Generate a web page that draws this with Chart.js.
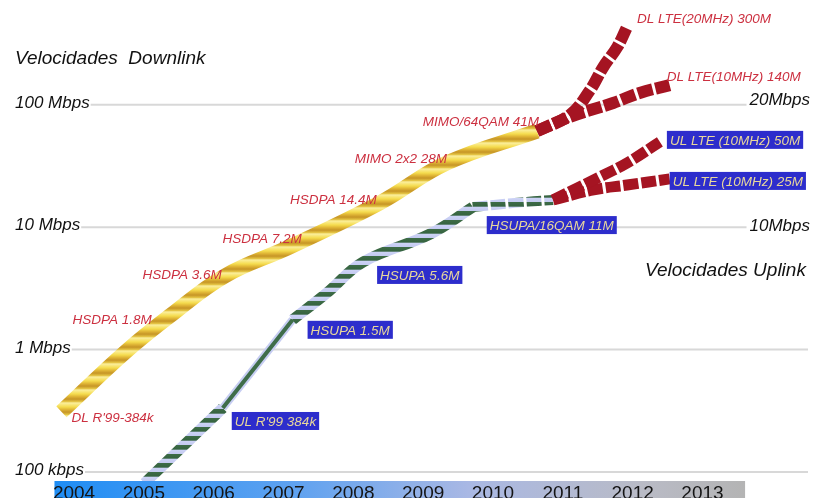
<!DOCTYPE html>
<html>
<head>
<meta charset="utf-8">
<script src="https://cdn.jsdelivr.net/npm/chart.js@4.4.0/dist/chart.umd.min.js"></script>
<style>
html, body { margin: 0; padding: 0; background: #fff; }
canvas { display: block; }
</style>
</head>
<body>
<canvas id="speedChart" width="817" height="498"></canvas>
<script>
// x axis years
var yearTicks = [2004, 2005, 2006, 2007, 2008, 2009, 2010, 2011, 2012, 2013];

// downlink, Mbps
var dlHspaYears = [2003.82, 2004.73, 2005.37, 2006.16, 2007.09, 2008.38, 2009.34, 2010.63];
var dlHspaValues = [0.31, 0.95, 1.88, 4.0, 6.9, 15.8, 33.5, 61];
var dlLte20Years = [2010.63, 2011.10, 2011.39, 2011.58, 2011.78, 2011.92];
var dlLte20Values = [61, 82.6, 132, 204, 297, 433];
var dlLte10Years = [2010.63, 2011.10, 2011.72, 2012.10, 2012.53];
var dlLte10Values = [61, 79.6, 103.5, 125, 145];

// uplink, Mbps
var ulR99Years = [2005.01, 2006.13];
var ulR99Values = [0.081, 0.333];
var ulThinYears = [2006.13, 2007.13];
var ulThinValues = [0.333, 1.75];
var ulHsupaYears = [2007.13, 2007.62, 2008.14, 2009.10, 2009.71];
var ulHsupaValues = [1.75, 2.9, 5.2, 8.8, 14.6];
var ulQamYears = [2009.71, 2010.31, 2010.86];
var ulQamValues = [14.6, 15.8, 16.7];
var ulLte50Years = [2010.86, 2011.53, 2011.92, 2012.39];
var ulLte50Values = [16.7, 25.8, 33.5, 49.8];
var ulLte25Years = [2010.86, 2011.44, 2011.92, 2012.53];
var ulLte25Values = [16.7, 20.2, 22.1, 24.8];

// axis texts
var yTickValues = [0.1, 1, 10, 100];
var yTickLabels = ['100 kbps', '1 Mbps', '10 Mbps', '100 Mbps'];
var ulTickValues = [10, 100];
var ulTickLabels = ['10Mbps', '20Mbps'];

var dlPointLabels = ["DL R'99-384k", 'HSDPA 1.8M', 'HSDPA 3.6M', 'HSDPA 7.2M', 'HSDPA 14.4M',
    'MIMO 2x2 28M', 'MIMO/64QAM 41M', 'DL LTE(20MHz) 300M', 'DL LTE(10MHz) 140M'];
var ulPointLabels = ["UL R'99 384k", 'HSUPA 1.5M', 'HSUPA 5.6M', 'HSUPA/16QAM 11M',
    'UL LTE (10MHz) 50M', 'UL LTE (10MHz) 25M'];

function toPoints(xs, ys) {
    return xs.map(function (x, i) { return { x: x, y: ys[i] }; });
}

// vertical gradient tile, repeated -> twisted rope look on sloped lines
function ropePattern(stops, h) {
    var c = document.createElement('canvas');
    c.width = 4;
    c.height = h;
    var g = c.getContext('2d');
    var grad = g.createLinearGradient(0, 0, 0, h);
    stops.forEach(function (s) { grad.addColorStop(s[0], s[1]); });
    g.fillStyle = grad;
    g.fillRect(0, 0, 4, h);
    return g.createPattern(c, 'repeat');
}

var goldRope = ropePattern([[0, '#fbef9c'], [0.3, '#f5dc4e'], [0.5, '#e0b636'],
    [0.7, '#c69526'], [0.88, '#e2c040'], [1, '#fbef9c']], 13);
var ulRope = ropePattern([[0, '#cdd3f6'], [0.42, '#c3caf0'], [0.5, '#3d6b46'],
    [0.92, '#356340'], [1, '#cdd3f6']], 9);
var lteRed = '#a51422';

// label placement: dataset index, point index, offsets
var labelPlaces = [
    [4, 0, 10, 6, 'left', 0], [4, 2, -18, 4, 'right', 1], [4, 3, -3, -1, 'right', 2],
    [4, 4, 12, -8, 'right', 3], [4, 5, -3, -3, 'right', 4], [4, 6, 0, -4, 'right', 5],
    [4, 7, 2, -9, 'right', 6], [0, 5, 10, -8, 'left', 7], [1, 4, -3, -8, 'left', 8]
];
var boxPlaces = [
    [9, 1, 9, 13, 0], [6, 0, 15, 10, 1], [6, 2, 14, 13, 2], [6, 4, 14, 18, 3],
    [2, 3, 7, -2, 4], [3, 3, 0, 2, 5]
];

var gridPlugin = {
    id: 'speedGrid',
    beforeDatasetsDraw: function (chart) {
        var ctx = chart.ctx;
        var y = chart.scales.y;
        ctx.save();
        ctx.font = "italic 17px 'Liberation Sans', Arial, sans-serif";
        ctx.textBaseline = 'alphabetic';
        yTickValues.forEach(function (v, i) {
            var py = y.getPixelForValue(v);
            ctx.fillStyle = '#111';
            ctx.textAlign = 'left';
            ctx.fillText(yTickLabels[i], 15, py + 3);
            var left = 15 + ctx.measureText(yTickLabels[i]).width + 1;
            var right = 808;
            var k = ulTickValues.indexOf(v);
            if (k >= 0) {
                ctx.textAlign = 'right';
                ctx.fillText(ulTickLabels[k], 810, py + (v === 100 ? 0 : 4));
                right = 810 - ctx.measureText(ulTickLabels[k]).width - 3;
            }
            ctx.strokeStyle = '#d8d8d8';
            ctx.lineWidth = 2;
            ctx.beginPath();
            ctx.moveTo(left, py);
            ctx.lineTo(right, py);
            ctx.stroke();
        });
        ctx.fillStyle = '#111';
        ctx.textAlign = 'left';
        ctx.font = "italic 19px 'Liberation Sans', Arial, sans-serif";
        ctx.fillText('Velocidades  Downlink', 15, 64);
        ctx.fillText('Velocidades Uplink', 645, 276);
        ctx.restore();
    },
    afterDatasetsDraw: function (chart) {
        var ctx = chart.ctx;
        var x = chart.scales.x;
        ctx.save();
        // year band
        var x0 = x.getPixelForValue(2003.72), x1 = x.getPixelForValue(2013.61);
        var grad = ctx.createLinearGradient(x0, 0, x1, 0);
        grad.addColorStop(0, '#1f8df4');
        grad.addColorStop(0.35, '#5fa2f0');
        grad.addColorStop(0.6, '#a9b8e4');
        grad.addColorStop(0.85, '#b9bbc6');
        grad.addColorStop(1, '#b4b4b4');
        ctx.fillStyle = grad;
        ctx.fillRect(x0, 481, x1 - x0, 17);
        ctx.fillStyle = '#141414';
        ctx.font = "19px 'Liberation Sans', Arial, sans-serif";
        ctx.textAlign = 'center';
        ctx.textBaseline = 'alphabetic';
        yearTicks.forEach(function (yr) {
            ctx.fillText(String(yr), x.getPixelForValue(yr), 499);
        });

        // downlink labels
        ctx.font = "italic 13.5px 'Liberation Sans', Arial, sans-serif";
        ctx.textBaseline = 'middle';
        labelPlaces.forEach(function (p) {
            var pt = chart.getDatasetMeta(p[0]).data[p[1]];
            ctx.textAlign = p[4];
            ctx.fillStyle = '#cc3040';
            ctx.fillText(dlPointLabels[p[5]], pt.x + p[2], pt.y + p[3]);
        });
        // uplink labels in blue boxes
        ctx.textAlign = 'left';
        boxPlaces.forEach(function (p) {
            var pt = chart.getDatasetMeta(p[0]).data[p[1]];
            var txt = ulPointLabels[p[4]];
            var w = ctx.measureText(txt).width + 6;
            var bx = pt.x + p[2], by = pt.y + p[3];
            ctx.fillStyle = '#2d2dcc';
            ctx.fillRect(bx, by - 9, w, 18);
            ctx.fillStyle = '#e8d79c';
            ctx.fillText(txt, bx + 3, by + 1);
        });
        ctx.restore();
    }
};

function rope(data, pattern, width) {
    return {
        data: data, borderColor: pattern, borderWidth: width, pointRadius: 0,
        tension: 0.4, borderCapStyle: 'butt', fill: false
    };
}
function dashed(data, color, width) {
    return {
        data: data, borderColor: color, borderWidth: width, pointRadius: 0,
        tension: 0.4, borderDash: [15, 3], borderCapStyle: 'butt', fill: false
    };
}

var chartObject = new Chart(document.getElementById('speedChart').getContext('2d'), {
    type: 'line',
    data: {
        datasets: [
            dashed(toPoints(dlLte20Years, dlLte20Values), lteRed, 12),
            dashed(toPoints(dlLte10Years, dlLte10Values), lteRed, 12),
            dashed(toPoints(ulLte50Years, ulLte50Values), lteRed, 11),
            dashed(toPoints(ulLte25Years, ulLte25Values), lteRed, 11),
            rope(toPoints(dlHspaYears, dlHspaValues), goldRope, 15),
            dashed(toPoints(ulQamYears, ulQamValues), ulRope, 10),
            rope(toPoints(ulHsupaYears, ulHsupaValues), ulRope, 11),
            rope(toPoints(ulThinYears, ulThinValues), '#3f6d4a', 4),
            rope(toPoints(ulThinYears, ulThinValues), '#c6cdf2', 8),
            rope(toPoints(ulR99Years, ulR99Values), ulRope, 11)
        ]
    },
    options: {
        responsive: false,
        animation: false,
        layout: { padding: 0 },
        plugins: { legend: { display: false }, tooltip: { enabled: false } },
        scales: {
            x: { type: 'linear', min: 2002.94, max: 2014.64, display: false },
            y: { type: 'logarithmic', min: 0.0612, max: 719, display: false }
        }
    },
    plugins: [gridPlugin]
});
</script>
</body>
</html>
